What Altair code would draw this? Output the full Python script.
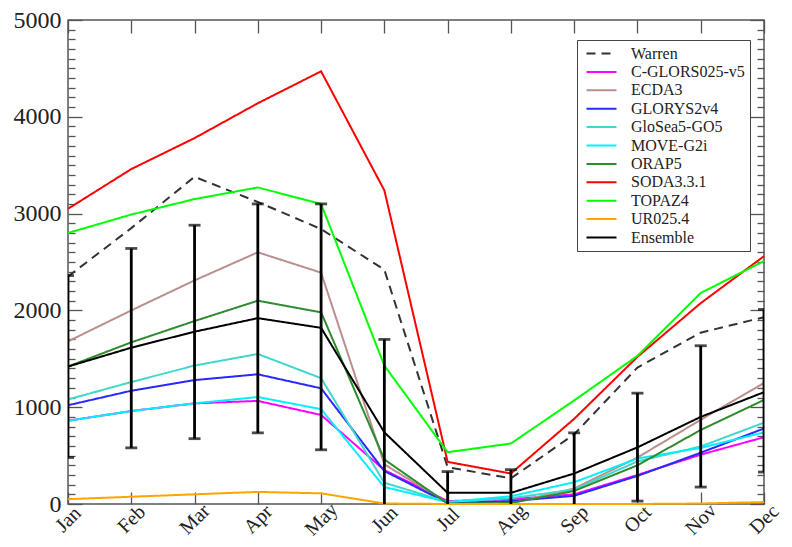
import altair as alt
import pandas as pd

months = ["Jan", "Feb", "Mar", "Apr", "May", "Jun", "Jul", "Aug", "Sep", "Oct", "Nov", "Dec"]

series_names = ["Warren", "C-GLORS025-v5", "ECDA3", "GLORYS2v4", "GloSea5-GO5", "MOVE-G2i",
                "ORAP5", "SODA3.3.1", "TOPAZ4", "UR025.4", "Ensemble"]
series_colors = ["#333333", "#ff00ff", "#bc8f8f", "#2a2aff", "#40d8cc", "#00f0ff",
                 "#2e8b2e", "#ff0000", "#00ff00", "#ffa500", "#000000"]
series_dash = [[9, 6], [1, 0], [1, 0], [1, 0], [1, 0], [1, 0], [1, 0], [1, 0], [1, 0], [1, 0], [1, 0]]
series_width = [2, 2, 2, 2, 2, 2, 2, 2, 2, 2, 3.4]

warren = [2350, 2850, 3380, 3120, 2840, 2420, 380, 265, 720, 1410, 1770, 1930]
c_glors = [860, 960, 1040, 1065, 920, 350, 30, 50, 100, 300, 510, 690]
ecda3 = [1680, 2000, 2310, 2600, 2390, 410, 10, 10, 160, 480, 870, 1250]
glorys = [1020, 1170, 1280, 1340, 1195, 340, 10, 30, 85, 290, 530, 780]
glosea = [1080, 1260, 1430, 1550, 1300, 220, 20, 60, 150, 440, 595, 840]
move = [860, 960, 1040, 1105, 980, 175, 20, 80, 225, 470, 580, 740]
orap5 = [1420, 1670, 1890, 2100, 1980, 460, 5, 10, 135, 400, 765, 1075]
soda = [3050, 3460, 3780, 4140, 4470, 3240, 435, 315, 880, 1520, 2075, 2560]
topaz = [2800, 2990, 3150, 3270, 3100, 1430, 535, 625, 1070, 1530, 2180, 2510]
ur025 = [50, 75, 100, 125, 110, 5, 0, 0, 0, 0, 5, 20]
ensemble = [1420, 1615, 1780, 1920, 1820, 740, 115, 115, 315, 585, 900, 1155]

err_low = [480, 580, 675, 735, 560, 0, 0, 0, 0, 30, 175, 330]
err_high = [2360, 2640, 2880, 3100, 3100, 1700, 335, 355, 735, 1145, 1635, 2010]

all_values = [warren, c_glors, ecda3, glorys, glosea, move, orap5, soda, topaz, ur025, ensemble]

rows = []
for name, vals in zip(series_names, all_values):
    for m, v in zip(months, vals):
        rows.append({"series": name, "month": m, "value": v})
df = pd.DataFrame(rows)
df_err = pd.DataFrame({"month": months, "low": err_low, "high": err_high})

W, H = 696, 484
FONT = "Liberation Serif, Times New Roman, Times, serif"
TICK = "#555555"

xscale = alt.Scale(type="point", padding=0)
yscale = alt.Scale(domain=[0, 5000], nice=False, zero=True)
major = [0, 1000, 2000, 3000, 4000, 5000]
minor = [v for v in range(100, 5000, 100) if v % 1000 != 0]


def make_legend():
    return alt.Legend(title=None, orient="none", legendX=509, legendY=20,
                      symbolType="M-2,0H2", symbolSize=225, symbolOffset=11,
                      labelOffset=21, labelFont=FONT, labelFontSize=16,
                      labelColor="#222222", rowPadding=1.4, padding=5,
                      strokeColor="#444444", fillColor="white", labelLimit=300)


color_enc = alt.Color("series:N", scale=alt.Scale(domain=series_names, range=series_colors),
                      legend=make_legend())
dash_enc = alt.StrokeDash("series:N", scale=alt.Scale(domain=series_names, range=series_dash),
                          legend=make_legend())
width_enc = alt.StrokeWidth("series:N", scale=alt.Scale(domain=series_names, range=series_width),
                            legend=make_legend())

x_main_axis = alt.Axis(orient="bottom", title=None, labelAngle=-45, labelAlign="center",
                       labelBaseline="middle", labelPadding=15, ticks=False, domain=False,
                       labelFont=FONT, labelFontSize=20, labelColor="#222222", grid=False)
y_main_axis = alt.Axis(orient="left", title=None, values=major, format="d", ticks=False,
                       domain=False, labelPadding=7, labelFont=FONT, labelFontSize=24,
                       labelColor="#222222", grid=False)

lines = alt.Chart(df).transform_filter(alt.datum.series != "Ensemble").mark_line().encode(
    x=alt.X("month:N", sort=months, scale=xscale, axis=x_main_axis),
    y=alt.Y("value:Q", scale=yscale, axis=y_main_axis),
    color=color_enc, strokeDash=dash_enc, strokeWidth=width_enc,
    detail="series:N",
)

ens = alt.Chart(df).transform_filter(alt.datum.series == "Ensemble").mark_line().encode(
    x=alt.X("month:N", sort=months, scale=xscale, axis=None),
    y=alt.Y("value:Q", scale=yscale, axis=None),
    color=color_enc, strokeDash=dash_enc, strokeWidth=width_enc,
)

err_rule = alt.Chart(df_err).mark_rule(color="black", strokeWidth=2.8, clip=True).encode(
    x=alt.X("month:N", sort=months, scale=xscale, axis=None),
    y=alt.Y("low:Q", scale=yscale, axis=None),
    y2="high:Q",
)
cap_hi = alt.Chart(df_err).mark_tick(color="black", thickness=2.8, size=12, clip=True).encode(
    x=alt.X("month:N", sort=months, scale=xscale, axis=None),
    y=alt.Y("high:Q", scale=yscale, axis=None),
)
cap_lo = alt.Chart(df_err).transform_filter(alt.datum.low > 0).mark_tick(
    color="black", thickness=2.8, size=12, clip=True).encode(
    x=alt.X("month:N", sort=months, scale=xscale, axis=None),
    y=alt.Y("low:Q", scale=yscale, axis=None),
)


def axis_layer(xaxis, yaxis):
    return alt.Chart(df_err).mark_point(opacity=0).encode(
        x=alt.X("month:N", sort=months, scale=xscale, axis=xaxis),
        y=alt.Y("high:Q", scale=yscale, axis=yaxis),
    )


def tick_axis(orient, offset, values, size):
    kw = dict(orient=orient, offset=offset, tickSize=size, labels=False, domain=False,
              grid=False, title=None, tickColor=TICK, tickWidth=1.3)
    if values is not None:
        kw["values"] = values
    return alt.Axis(**kw)


ax_y_left_major = axis_layer(None, tick_axis("right", -W, major, 14))
ax_y_left_minor = axis_layer(None, tick_axis("right", -W, minor, 7))
ax_y_right_major = axis_layer(None, tick_axis("left", -W, major, 14))
ax_y_right_minor = axis_layer(None, tick_axis("left", -W, minor, 7))
ax_x_top = axis_layer(tick_axis("bottom", -H, None, 13), None)
ax_x_bottom = axis_layer(tick_axis("top", -H, None, 12), None)

chart = alt.layer(
    lines, ens, err_rule, cap_hi, cap_lo,
    ax_y_left_major, ax_y_left_minor, ax_y_right_major, ax_y_right_minor,
    ax_x_top, ax_x_bottom,
).resolve_axis(x="independent", y="independent").properties(
    width=W, height=H,
    autosize=alt.AutoSizeParams(type="none"),
    padding={"left": 60, "top": 12, "right": 20, "bottom": 38},
).configure_view(stroke="#555555", strokeWidth=1.5)

chart.save("out.html", embed_options={"renderer": "svg", "actions": False})
